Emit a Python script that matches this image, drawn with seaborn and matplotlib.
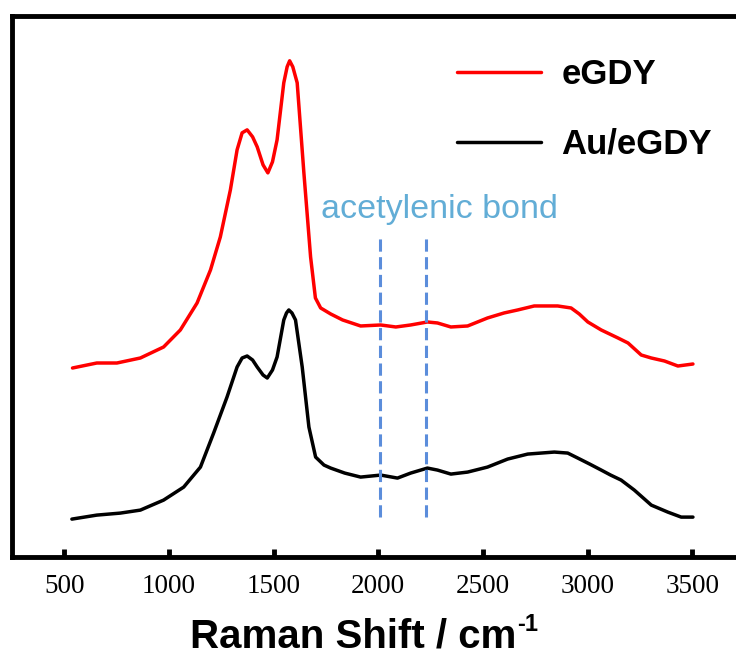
import numpy as np
import pandas as pd
import seaborn as sns
from matplotlib import pyplot as plt

# Raman shift (cm-1) and intensity (a.u.)
egdy_shift = [540, 656, 752, 864, 975, 1055, 1135, 1199, 1246, 1294, 1326, 1350, 1374, 1400,
              1422, 1450, 1473, 1495, 1517, 1549, 1565, 1577, 1592, 1613, 1645, 1677, 1700,
              1725, 1773, 1830, 1916, 2012, 2084, 2155, 2235, 2283, 2347, 2427, 2522, 2601,
              2666, 2745, 2857, 2921, 2960, 3001, 3065, 3145, 3193, 3256, 3304, 3367, 3431, 3503]
egdy_int = [189, 194, 194, 199, 210, 227, 254, 287, 320, 367, 407, 424, 427, 420,
            410, 392, 384, 395, 417, 474, 490, 496, 490, 474, 384, 300, 259,
            249, 243, 237, 231, 232, 230, 232, 235, 234, 230, 231, 239, 244,
            247, 251, 251, 249, 243, 235, 227, 219, 214, 202, 199, 196, 191, 193]

au_shift = [537, 656, 768, 864, 975, 1071, 1151, 1214, 1278, 1326, 1350, 1374, 1400, 1422,
            1450, 1470, 1495, 1517, 1549, 1562, 1573, 1588, 1605, 1637, 1669, 1701, 1741,
            1773, 1840, 1916, 2012, 2092, 2155, 2235, 2283, 2347, 2427, 2522, 2618, 2714,
            2841, 2905, 2953, 3010, 3065, 3110, 3160, 3223, 3304, 3383, 3447, 3503]
au_int = [38, 42, 44, 47, 57, 70, 90, 124, 160, 190, 199, 201, 197, 190,
          182, 179, 187, 200, 237, 244, 247, 244, 237, 190, 130, 100, 92,
          89, 84, 80, 82, 79, 84, 89, 87, 83, 85, 90, 98, 103,
          105, 104, 99, 93, 87, 82, 77, 67, 52, 45, 40, 40]

series = ["eGDY", "Au/eGDY"]
bond_pos = [2010, 2230]
xticks = [500, 1000, 1500, 2000, 2500, 3000, 3500]

df = pd.concat([
    pd.DataFrame({"shift": egdy_shift, "intensity": egdy_int, "sample": "eGDY"}),
    pd.DataFrame({"shift": au_shift, "intensity": au_int, "sample": "Au/eGDY"}),
])

sns.set_theme(style="white")
plt.rcParams["font.family"] = ["Liberation Sans", "DejaVu Sans"]
plt.rcParams["text.color"] = "black"
plt.rcParams["xtick.color"] = "black"

fig = plt.figure(figsize=(7.36, 6.57), dpi=100)
ax = fig.add_axes([0.016, 0.152, 1.01, 0.824])

sns.lineplot(data=df, x="shift", y="intensity", hue="sample", hue_order=series,
             palette={"eGDY": "#ff0000", "Au/eGDY": "black"}, linewidth=2.5,
             sort=False, estimator=None, ax=ax)

ax.vlines(bond_pos, 40, 322, colors="#5b8ddb", linestyles=(0, (4, 1.8)), linewidth=2.2)
ax.text(2290, 347, "acetylenic bond", color="#62add6", fontsize=24.5,
        ha="center", va="center")

ax.set_xlim(250, 3800)
ax.set_ylim(0, 541)
ax.set_xticks(xticks)
ax.set_yticks([])
ax.set_xlabel("")
ax.set_ylabel("")
for side in ["left", "top", "bottom"]:
    ax.spines[side].set_linewidth(3.5)
    ax.spines[side].set_color("black")
ax.spines["right"].set_visible(False)
ax.tick_params(axis="x", direction="in", length=6, width=3.5, pad=12,
               labelsize=19.5, bottom=True, labelcolor="black")
for lab in ax.get_xticklabels():
    lab.set_fontfamily("Liberation Serif")

leg = ax.legend(loc="upper left", bbox_to_anchor=(426 / 736, 1 - 27 / 657),
                bbox_transform=fig.transFigure, frameon=False,
                handlelength=2.4, handletextpad=0.6, labelspacing=1.05,
                prop={"weight": "bold", "size": 25})
for line in leg.get_lines():
    line.set_linewidth(2.5)

t = fig.text(190 / 736, 1 - 648 / 657, "Raman Shift / cm", fontsize=29,
             fontweight="bold", ha="left", va="baseline")
fig.canvas.draw()
bb = t.get_window_extent()
fig.text(bb.x1 / fig.bbox.width + 0.001, 1 - 631 / 657, "-1", fontsize=17,
         fontweight="bold", ha="left", va="baseline")

fig.savefig("out.png", dpi=100)
